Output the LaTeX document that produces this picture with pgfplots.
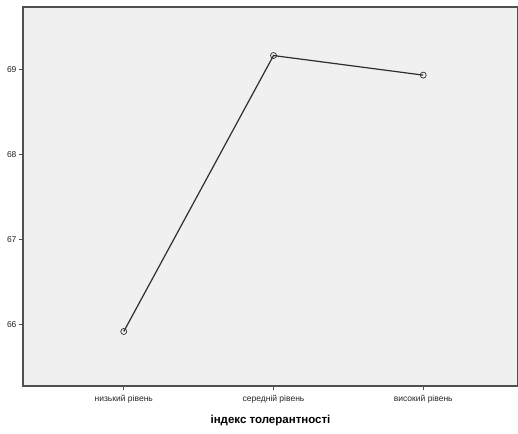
\documentclass[border=0pt]{standalone}
\usepackage{fontspec}
\setmainfont{Liberation Sans}
\usepackage{pgfplots}
\pgfplotsset{compat=1.18}
\definecolor{bgc}{HTML}{F0F0F0}
\definecolor{framec}{HTML}{505050}
\definecolor{linec}{HTML}{2E2E2E}
\begin{document}
\begin{tikzpicture}[x=1pt,y=1pt]
\useasboundingbox (-23,-47) rectangle (495,386);
\begin{axis}[
    at={(0,0)}, anchor=south west,
    scale only axis,
    width=495pt, height=379pt,
    xmin=-0.673, xmax=2.633,
    ymin=65.28, ymax=69.73,
    xtick={0,1,2},
    xticklabels={низький рівень, середній рівень, високий рівень},
    ytick={66,67,68,69},
    /pgf/number format/assume math mode=true,
    tick label style={font=\fontsize{8.5}{10}\selectfont, text=black!85},
    xticklabel style={yshift=-2pt},
    tick align=outside,
    major tick length=4pt,
    tick style={framec, line width=0.8pt},
    xtick pos=bottom, ytick pos=left,
    axis background/.style={fill=bgc},
    axis line style={framec, line width=1.1pt},
    xlabel={\textbf{індекс толерантності}},
    xlabel style={font=\fontsize{11.5}{13}\selectfont, yshift=-5pt},
    yticklabel style={xshift=1pt},
    clip=false,
]
\addplot[linec, line width=1.2pt, mark=o, mark size=3pt,
    mark options={linec, line width=0.7pt}]
    coordinates {(0,65.92) (1,69.16) (2,68.93)};
\end{axis}
\end{tikzpicture}
\end{document}
